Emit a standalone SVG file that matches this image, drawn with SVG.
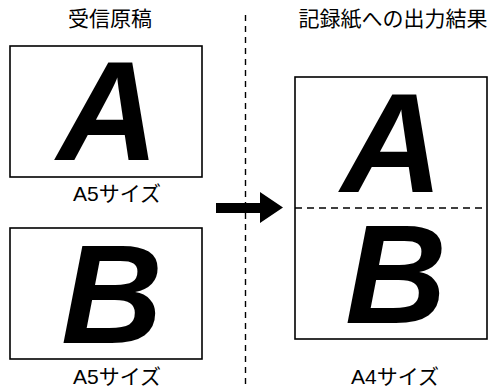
<svg xmlns="http://www.w3.org/2000/svg" width="490" height="389" viewBox="0 0 490 389">
<style>
.box{fill:#fff;stroke:#000;stroke-width:1.6}
.big{font-family:"Liberation Sans",Arial,sans-serif;font-weight:bold;font-style:italic;font-size:141px;fill:#000;text-anchor:middle}
.ttl{font-family:"Noto Sans CJK JP",sans-serif;font-size:21px;fill:#000;text-anchor:middle}
.lbl{font-family:"Liberation Sans","Noto Sans CJK JP",sans-serif;font-size:21px;fill:#000;text-anchor:middle}
.dash{stroke:#000;stroke-width:1.4;fill:none}
</style>
<rect width="490" height="389" fill="#fff"/>
<text class="ttl" x="110" y="26">受信原稿</text>
<text class="ttl" x="393" y="26">記録紙への出力結果</text>
<g id="connectors">
<line class="dash" x1="245.5" y1="15" x2="245.5" y2="389" stroke-dasharray="6,5"/>
<polygon points="216,203 260,203 260,192 283,207.5 260,223 260,213 216,213" fill="#000"/>
</g>
<g id="srcA">
<rect class="box" x="10" y="46" width="192" height="131"/>
<text class="big" x="108" y="160">A</text>
<text class="lbl" x="117" y="201">A5サイズ</text>
</g>
<g id="srcB">
<rect class="box" x="10" y="228" width="192" height="131"/>
<text class="big" x="112" y="343">B</text>
<text class="lbl" x="117" y="384">A5サイズ</text>
</g>
<g id="outA4">
<rect class="box" x="295" y="77" width="192" height="262"/>
<line class="dash" x1="295" y1="208" x2="487" y2="208" stroke-dasharray="7,5"/>
<text class="big" x="392" y="192">A</text>
<text class="big" x="396" y="323">B</text>
<text class="lbl" x="395" y="384">A4サイズ</text>
</g>
</svg>
